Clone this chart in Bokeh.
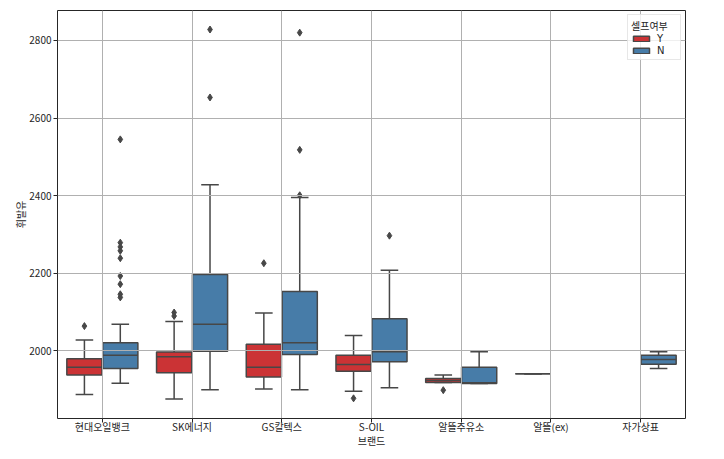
from bokeh.plotting import figure
from bokeh.models import ColumnDataSource, FactorRange, Range1d, FixedTicker
from bokeh.transform import dodge
from bokeh.embed import file_html
from bokeh.resources import INLINE

brands = ["현대오일뱅크", "SK에너지", "GS칼텍스", "S-OIL", "알뜰주유소", "알뜰(ex)", "자가상표"]

# Y (self) groups
y_brand = ["현대오일뱅크", "SK에너지", "GS칼텍스", "S-OIL", "알뜰주유소", "알뜰(ex)"]
y_lo  = [1888, 1876, 1902, 1896, 1919, 1941]
y_q1  = [1938, 1944, 1933, 1948, 1919, 1941]
y_med = [1958, 1985, 1958, 1965, 1924, 1941]
y_q3  = [1980, 1997, 2017, 1989, 1929, 1941]
y_hi  = [2028, 2076, 2098, 2040, 1938, 1941]

# N groups
n_brand = ["현대오일뱅크", "SK에너지", "GS칼텍스", "S-OIL", "알뜰주유소", "자가상표"]
n_lo  = [1917, 1900, 1900, 1905, 1916, 1955]
n_q1  = [1955, 1999, 1991, 1972, 1916, 1966]
n_med = [1989, 2069, 2021, 1998, 1918, 1978]
n_q3  = [2021, 2197, 2153, 2083, 1958, 1989]
n_hi  = [2069, 2428, 2395, 2208, 1998, 1998]

# outliers
yo_brand = ["현대오일뱅크", "SK에너지", "SK에너지", "GS칼텍스", "S-OIL", "알뜰주유소"]
yo_val   = [2064, 2099, 2090, 2226, 1878, 1899]
no_brand = ["현대오일뱅크"] * 9 + ["SK에너지"] * 2 + ["GS칼텍스"] * 3 + ["S-OIL"]
no_val   = [2545, 2279, 2268, 2258, 2239, 2193, 2172, 2146, 2138,
            2828, 2653,
            2820, 2518, 2401,
            2297]

ticks_y = [2000, 2200, 2400, 2600, 2800]

RED = "#cb3335"
BLUE = "#477ca8"
GRAY = "#474747"
FONT = "Noto Sans CJK KR"

p = figure(frame_width=628, frame_height=408, output_backend="svg", toolbar_location=None,
           x_range=FactorRange(*brands), y_range=Range1d(1826, 2877),
           min_border_left=0, min_border_right=15, min_border_top=10, min_border_bottom=0,
           margin=(0, 0, 0, 10))

p.background_fill_color = "white"
p.outline_line_color = "#262626"
p.outline_line_width = 1

for ax in (p.xaxis[0], p.yaxis[0]):
    ax.axis_line_color = None
    ax.major_tick_in = 0
    ax.major_tick_out = 4
    ax.major_tick_line_color = "#262626"
    ax.minor_tick_line_color = None
    ax.major_label_text_font = FONT
    ax.major_label_text_font_size = "10px"
    ax.major_label_text_color = "#262626"
    ax.axis_label_text_font = FONT
    ax.axis_label_text_font_size = "10px"
    ax.axis_label_text_font_style = "normal"
    ax.axis_label_text_color = "#262626"
    ax.major_label_standoff = 2

p.yaxis.ticker = FixedTicker(ticks=ticks_y)
p.xaxis.axis_label = "브랜드"
p.yaxis.axis_label = "휘발유"
p.xaxis.major_label_standoff = -4
p.xaxis.axis_label_standoff = -4
p.yaxis.axis_label_standoff = -2

for g in (p.xgrid[0], p.ygrid[0]):
    g.grid_line_color = "#b0b0b0"
    g.grid_line_width = 1
    g.level = "glyph"

def draw(brand, lo, q1, med, q3, hi, off, color, label):
    src = ColumnDataSource(dict(brand=brand, lo=lo, q1=q1, med=med, q3=q3, hi=hi))
    xr = p.x_range
    box = p.vbar(x=dodge("brand", off, range=xr), width=0.392, bottom="q1", top="q3",
                 source=src, fill_color=color, line_color=GRAY, line_width=1.5,
                 legend_label=label, level="underlay")
    p.segment(x0=dodge("brand", off, range=xr), x1=dodge("brand", off, range=xr),
              y0="q3", y1="hi", source=src, line_color=GRAY, line_width=1.5)
    p.segment(x0=dodge("brand", off, range=xr), x1=dodge("brand", off, range=xr),
              y0="lo", y1="q1", source=src, line_color=GRAY, line_width=1.5)
    p.segment(x0=dodge("brand", off - 0.098, range=xr), x1=dodge("brand", off + 0.098, range=xr),
              y0="hi", y1="hi", source=src, line_color=GRAY, line_width=1.5)
    p.segment(x0=dodge("brand", off - 0.098, range=xr), x1=dodge("brand", off + 0.098, range=xr),
              y0="lo", y1="lo", source=src, line_color=GRAY, line_width=1.5)
    p.segment(x0=dodge("brand", off - 0.196, range=xr), x1=dodge("brand", off + 0.196, range=xr),
              y0="med", y1="med", source=src, line_color=GRAY, line_width=1.5)
    return box

draw(y_brand, y_lo, y_q1, y_med, y_q3, y_hi, -0.2, RED, "Y")
draw(n_brand, n_lo, n_q1, n_med, n_q3, n_hi, 0.2, BLUE, "N")

yo_src = ColumnDataSource(dict(brand=yo_brand, val=yo_val))
no_src = ColumnDataSource(dict(brand=no_brand, val=no_val))
p.scatter(x=dodge("brand", -0.2, range=p.x_range), y="val", source=yo_src,
          marker="diamond", size=7, fill_color=GRAY, line_color=GRAY)
p.scatter(x=dodge("brand", 0.2, range=p.x_range), y="val", source=no_src,
          marker="diamond", size=7, fill_color=GRAY, line_color=GRAY)

lg = p.legend[0]
lg.location = "top_right"
lg.title = "셀프여부"
lg.title_text_font = FONT
lg.title_text_font_size = "10px"
lg.title_text_font_style = "normal"
lg.title_text_color = "#262626"
lg.title_standoff = -2
lg.label_text_font = "DejaVu Sans"
lg.label_text_font_size = "10px"
lg.label_text_color = "#262626"
lg.label_standoff = 6
lg.glyph_width = 20
lg.glyph_height = 7
lg.label_height = 8
lg.spacing = 1
lg.padding = 3
lg.margin = 4
lg.border_line_color = "#d0d0d0"
lg.background_fill_alpha = 0.8

open("out.html", "w").write(file_html(p, INLINE))
